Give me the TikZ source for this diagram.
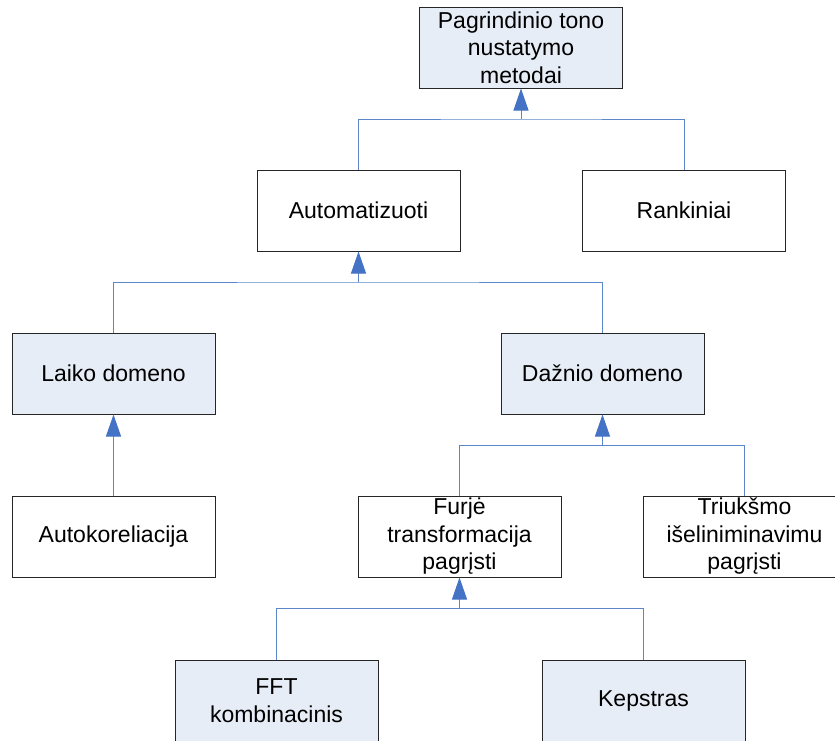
\documentclass[tikz,border=0pt]{standalone}
\usepackage{fontspec}
\setmainfont{Liberation Sans}
\usetikzlibrary{arrows.meta}
\definecolor{boxblue}{HTML}{E7EDF7}
\definecolor{wireblue}{HTML}{5B87C8}
\definecolor{tipblue}{HTML}{4472C4}
\tikzset{
  box/.style={draw=black!85, line width=1pt, minimum width=203pt, minimum height=81pt,
    inner sep=0pt, align=center, font=\fontsize{23}{27.5}\selectfont},
  shaded/.style={box, fill=boxblue},
  plain/.style={box, fill=white},
  wire/.style={draw=wireblue, line width=1pt},
  up/.style={wire, -{Triangle[length=22pt, width=15pt, fill=tipblue, color=tipblue]}},
}
\begin{document}
\begin{tikzpicture}[x=1pt, y=-1pt]
  \useasboundingbox (0,0) rectangle (835,740);
  \clip (0,0) rectangle (835,740);

  % tree nodes
  \node[shaded] (top)  at (521,47.5)  {Pagrindinio tono\\nustatymo\\metodai};
  \node[plain]  (auto) at (358.5,210.5) {Automatizuoti};
  \node[plain]  (rank) at (684,210.5) {Rankiniai};
  \node[shaded] (laik) at (113.5,373.5) {Laiko domeno};
  \node[shaded] (dazn) at (602.5,373.5) {Dažnio domeno};
  \node[plain]  (akor) at (113.5,536.5) {Autokoreliacija};
  \node[plain]  (furj) at (459.5,536.5) {Furjė\\transformacija\\pagrįsti};
  \node[plain]  (triu) at (744.5,536.5) {Triukšmo\\išeliniminavimu\\pagrįsti};
  \node[shaded] (fft)  at (276.5,700.5) {FFT\\kombinacinis};
  \node[shaded] (kep)  at (643.5,700.5) {Kepstras};

  % junction points on the horizontal bars
  \coordinate (j1) at (top.south |- 0,119);
  \coordinate (j2) at (auto.south |- 0,282);
  \coordinate (j3) at (dazn.south |- 0,445);
  \coordinate (j4) at (furj.south |- 0,608);

  % connectors
  \draw[wire] (auto.north) |- (j1) -| (rank.north);
  \draw[up] (j1) -- (top.south);

  \draw[wire] (laik.north) |- (j2) -| (dazn.north);
  \draw[up] (j2) -- (auto.south);

  \draw[up] (akor.north) -- (laik.south);

  \draw[wire] (furj.north) |- (j3) -| (triu.north);
  \draw[up] (j3) -- (dazn.south);

  \draw[wire] (fft.north) |- (j4) -| (kep.north);
  \draw[up] (j4) -- (furj.south);
\end{tikzpicture}
\end{document}
